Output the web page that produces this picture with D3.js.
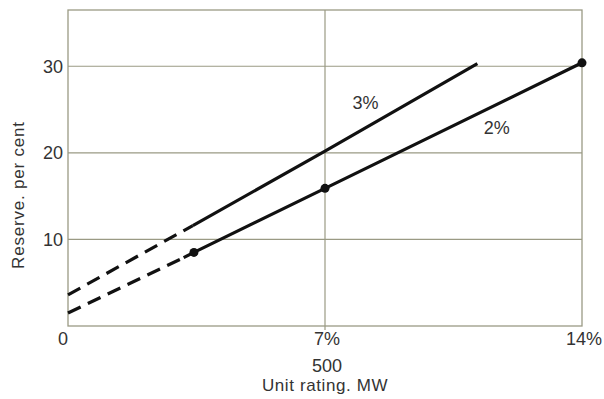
<!DOCTYPE html>
<html><head><meta charset="utf-8">
<script src="https://cdn.jsdelivr.net/npm/d3@7"></script>
<style>body{margin:0;background:#fff}svg{display:block}</style>
</head><body>
<svg id="c" width="604" height="399"></svg>
<script>
// Data
const xTicks = [0, 7, 14];
const xTickLabels = ["0", "7%", "14%"];
const yTicks = [10, 20, 30];
const yTickLabels = ["10", "20", "30"];
const line3Dashed = [[0, 3.6], [3.4, 11.6]];
const line3Solid = [[3.4, 11.6], [7, 20.2], [11.15, 30.3]];
const line2Dashed = [[0, 1.5], [3.15, 7.9]];
const line2Solid = [[3.15, 7.9], [3.43, 8.5], [7, 15.9], [14, 30.4]];
const line2Points = [[3.43, 8.5], [7, 15.9], [14, 30.4]];
const seriesLabels = [{t: "3%", x: 8.1, y: 25.8}, {t: "2%", x: 11.68, y: 22.9}];
const xAxisExtra = {t: "500", x: 7};
const xTitle = "Unit rating. MW";
const yTitle = "Reserve. per cent";

const svg = d3.select("#c");
const L = 68, R = 582, T = 10, B = 326;
const x = d3.scaleLinear().domain([0, 14]).range([L, R]);
const y = d3.scaleLinear().domain([0, 36.5]).range([B, T]);
const gridC = "#9a9a84", textC = "#333";
const font = "'Liberation Sans', Arial, sans-serif";

// grid
svg.append("g").selectAll("line").data(yTicks).join("line")
  .attr("x1", L).attr("x2", R).attr("y1", d => y(d)).attr("y2", d => y(d))
  .attr("stroke", gridC).attr("stroke-width", 1.2);
svg.append("line").attr("x1", x(7)).attr("x2", x(7)).attr("y1", T).attr("y2", B + 4)
  .attr("stroke", gridC).attr("stroke-width", 1.2);
svg.append("rect").attr("x", L).attr("y", T).attr("width", R - L).attr("height", B - T)
  .attr("fill", "none").attr("stroke", gridC).attr("stroke-width", 1.3);

// axes labels
svg.append("g").selectAll("text").data(yTicks).join("text")
  .attr("x", L - 5).attr("y", d => y(d) + 6.5).attr("text-anchor", "end")
  .attr("font-family", font).attr("font-size", 18).attr("fill", textC)
  .text((d, i) => yTickLabels[i]);
svg.append("g").selectAll("text").data(xTicks).join("text")
  .attr("x", (d, i) => i === 0 ? x(d) - 5 : (i === 2 ? x(d) + 2 : x(d) + 2))
  .attr("y", 345).attr("text-anchor", "middle")
  .attr("font-family", font).attr("font-size", 18).attr("fill", textC)
  .text((d, i) => xTickLabels[i]);
svg.append("text").attr("x", x(xAxisExtra.x) + 2).attr("y", 372).attr("text-anchor", "middle")
  .attr("font-family", font).attr("font-size", 18).attr("fill", textC).text(xAxisExtra.t);
svg.append("text").attr("x", 325).attr("y", 391).attr("text-anchor", "middle")
  .attr("font-family", font).attr("font-size", 17).attr("letter-spacing", 0.6)
  .attr("fill", textC).text(xTitle);
svg.append("text").attr("transform", "translate(24,195) rotate(-90)").attr("text-anchor", "middle")
  .attr("font-family", font).attr("font-size", 17).attr("letter-spacing", 0.8)
  .attr("fill", textC).text(yTitle);

// lines
const lg = d3.line().x(d => x(d[0])).y(d => y(d[1]));
function draw(data, dashed) {
  svg.append("path").datum(data).attr("d", lg).attr("fill", "none")
    .attr("stroke", "#111").attr("stroke-width", 3.2)
    .attr("stroke-dasharray", dashed ? "14,8" : null);
}
draw(line3Dashed, true); draw(line3Solid, false);
draw(line2Dashed, true); draw(line2Solid, false);
svg.append("g").selectAll("circle").data(line2Points).join("circle")
  .attr("cx", d => x(d[0])).attr("cy", d => y(d[1])).attr("r", 4.5).attr("fill", "#111");

svg.append("g").selectAll("text").data(seriesLabels).join("text")
  .attr("x", d => x(d.x)).attr("y", d => y(d.y) + 6.5).attr("text-anchor", "middle")
  .attr("font-family", font).attr("font-size", 18).attr("fill", textC).text(d => d.t);
</script>
</body></html>
